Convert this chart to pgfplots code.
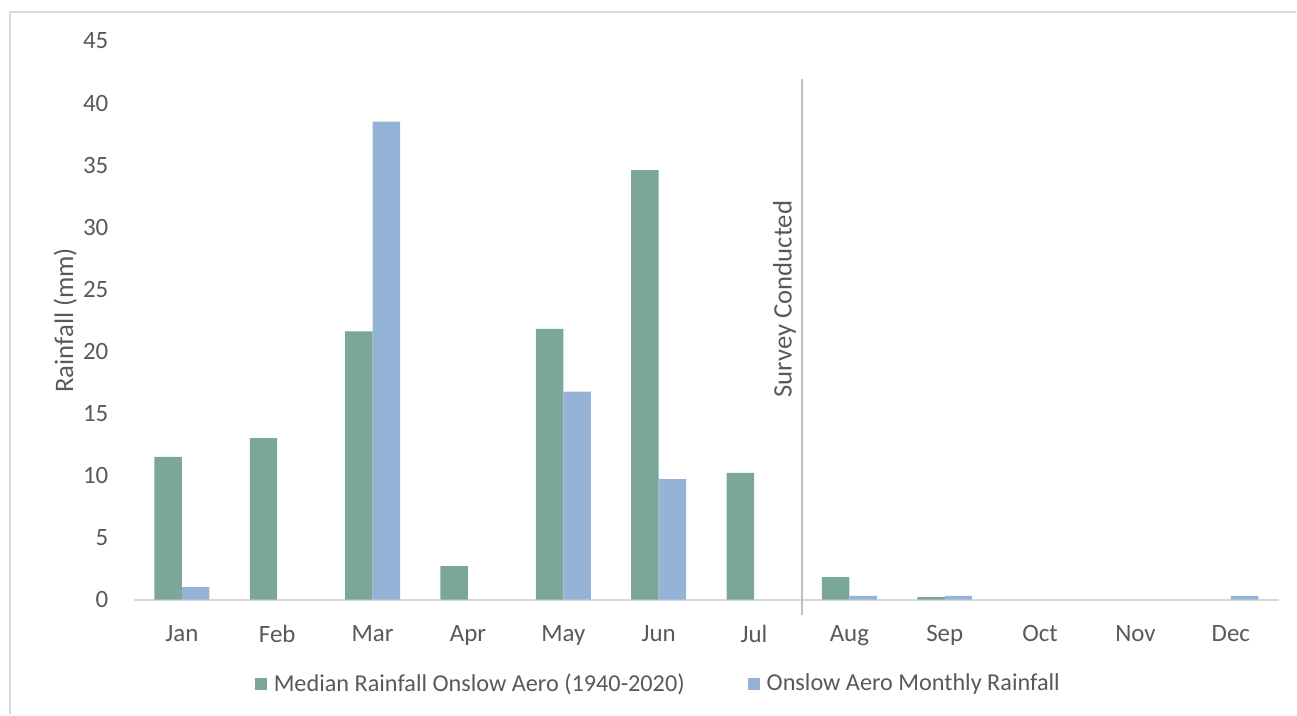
\documentclass[border=0pt]{standalone}
\usepackage{pgfplots}
\pgfplotsset{compat=1.18}
\usepackage{fontspec}
\setmainfont{Carlito}
\definecolor{cgreen}{HTML}{7BA79A}
\definecolor{cblue}{HTML}{95B3D7}
\definecolor{ctext}{HTML}{595959}
\definecolor{cline}{HTML}{D9D9D9}
\definecolor{csurvey}{HTML}{BFBFBF}
\begin{document}
\begin{tikzpicture}
\fontsize{7}{8.4}\selectfont
\begin{axis}[
  at={(0,0)}, anchor=south west,
  scale only axis,
  width=11.452cm, height=5.59cm,
  xmin=-0.5, xmax=11.5,
  ymin=0, ymax=45,
  ytick={0,5,...,45},
  xtick={0,...,11},
  xticklabels={Jan,Feb,Mar,Apr,May,Jun,Jul,Aug,Sep,Oct,Nov,Dec},
  minor xtick={-0.5,0.5,...,11.5},
  major tick length=0pt,
  minor tick length=0.15cm,
  tick align=center,
  minor x tick style={cline, line width=0.2mm},
  axis x line*=bottom,
  axis y line*=left,
  x axis line style={cline, line width=0.2mm, -},
  y axis line style={draw=none},
  ytick style={draw=none},
  xtick style={draw=none},
  /pgf/number format/assume math mode=true,
  tick label style={font=\fontsize{7.1}{8.5}\selectfont, text=ctext},
  yticklabel style={xshift=-0.17cm},
  xticklabel style={yshift=-0.17cm},
  ylabel={Rainfall (mm)},
  every axis y label/.style={at={(axis description cs:-0.0603,0.5)}, rotate=90, anchor=center, font=\fontsize{7.6}{9}\selectfont, text=ctext},
  ybar,
  bar width=0.288,
  legend columns=2,
  legend style={at={(axis description cs:0.4602,-0.152)}, anchor=center, draw=none, font=\fontsize{6.9}{8.3}\selectfont, text=ctext,
    /tikz/every even column/.append style={column sep=0.56cm}},
  legend image code/.code={\fill[#1] (0cm,-0.06cm) rectangle (0.12cm,0.06cm);},
  clip=false,
]
\addplot[fill=cgreen, draw=none, bar shift=-0.144] coordinates {
(0,11.5) (1,13.0) (2,21.6) (3,2.7) (4,21.8) (5,34.6) (6,10.2) (7,1.8) (8,0.2)};
\addlegendentry{Median Rainfall Onslow Aero (1940-2020)}
\addplot[fill=cblue, draw=none, bar shift=0.144] coordinates {
(0,1.0) (2,38.5) (4,16.75) (5,9.7) (7,0.3) (8,0.3) (11,0.3)};
\addlegendentry{Onslow Aero Monthly Rainfall}
\draw[csurvey, line width=0.2mm] (axis cs:6.5,41.9) -- (axis cs:6.5,-1.25);
\node[rotate=90, anchor=south, text=ctext, font=\fontsize{7.6}{9}\selectfont, inner sep=0.5mm] at (axis cs:6.5,24.2) {Survey Conducted};
\end{axis}
\draw[cline, line width=0.2mm] (-1.243,-1.15) -- (-1.243,5.875) -- (11.627,5.875);
\path[use as bounding box] (-1.343,-1.15) rectangle (11.627,6.0);
\end{tikzpicture}
\end{document}
